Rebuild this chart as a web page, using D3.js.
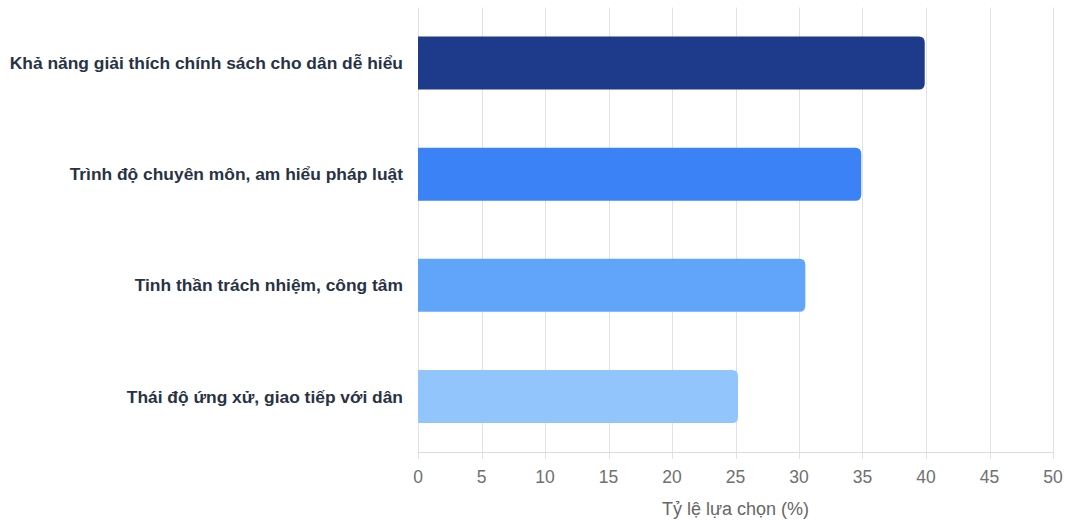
<!DOCTYPE html>
<html><head><meta charset="utf-8">
<script src="https://cdn.jsdelivr.net/npm/d3@7/dist/d3.min.js"></script>
<style>
html,body{margin:0;padding:0;background:#fff;}
svg{display:block;font-family:"Liberation Sans",Arial,Helvetica,sans-serif;}
</style></head>
<body><svg id="chart" width="1067" height="523"></svg>
<script>
const categories = [
  "Khả năng giải thích chính sách cho dân dễ hiểu",
  "Trình độ chuyên môn, am hiểu pháp luật",
  "Tinh thần trách nhiệm, công tâm",
  "Thái độ ứng xử, giao tiếp với dân"
];
const values = [39.9, 34.9, 30.5, 25.2];
const colors = ["#1e3a8a", "#3b82f6", "#60a5fa", "#93c5fd"];
const xTicks = [0, 5, 10, 15, 20, 25, 30, 35, 40, 45, 50];
const xTitle = "Tỷ lệ lựa chọn (%)";

const svg = d3.select("#chart");
const pLeft = 418, pRight = 1053, pTop = 7.5, pBottom = 452;
const x = d3.scaleLinear().domain([0, 50]).range([pLeft, pRight]);
const y = d3.scaleBand().domain(categories).range([pTop, pBottom]).padding(0);
const barH = y.bandwidth() * 0.477;

// grid lines
svg.append("g").selectAll("line").data(xTicks).join("line")
  .attr("x1", d => Math.round(x(d)) + 0.5).attr("x2", d => Math.round(x(d)) + 0.5)
  .attr("y1", pTop).attr("y2", pBottom + 7)
  .attr("stroke", "#e2e2e2").attr("stroke-width", 1);
// axis baseline
svg.append("line").attr("x1", pLeft).attr("x2", pRight + 0.5)
  .attr("y1", Math.round(pBottom) + 0.5).attr("y2", Math.round(pBottom) + 0.5)
  .attr("stroke", "#dddddd");

// bars: right corners rounded
const r = 6;
function barPath(x0, x1, y0, h) {
  const rr = Math.min(r, (x1 - x0) / 2, h / 2);
  return `M${x0},${y0}H${x1 - rr}Q${x1},${y0} ${x1},${y0 + rr}V${y0 + h - rr}Q${x1},${y0 + h} ${x1 - rr},${y0 + h}H${x0}Z`;
}
svg.append("g").selectAll("path").data(categories).join("path")
  .attr("d", (c, i) => barPath(x(0), x(values[i]), y(c) + (y.bandwidth() - barH) / 2, barH))
  .attr("fill", (c, i) => colors[i]);

// x tick labels
svg.append("g").selectAll("text").data(xTicks).join("text")
  .attr("x", d => x(d)).attr("y", 483)
  .attr("text-anchor", "middle").attr("font-size", 17.5).attr("fill", "#707070")
  .text(d => d);

// category labels
svg.append("g").selectAll("text").data(categories).join("text")
  .attr("x", 403).attr("y", c => y(c) + y.bandwidth() / 2)
  .attr("dy", "0.35em").attr("text-anchor", "end")
  .attr("font-size", 17.4).attr("font-weight", "bold").attr("fill", "#283244")
  .text(c => c);

// axis title
svg.append("text").attr("x", (pLeft + pRight) / 2).attr("y", 515)
  .attr("text-anchor", "middle").attr("font-size", 18).attr("fill", "#666")
  .text(xTitle);
</script></body></html>
